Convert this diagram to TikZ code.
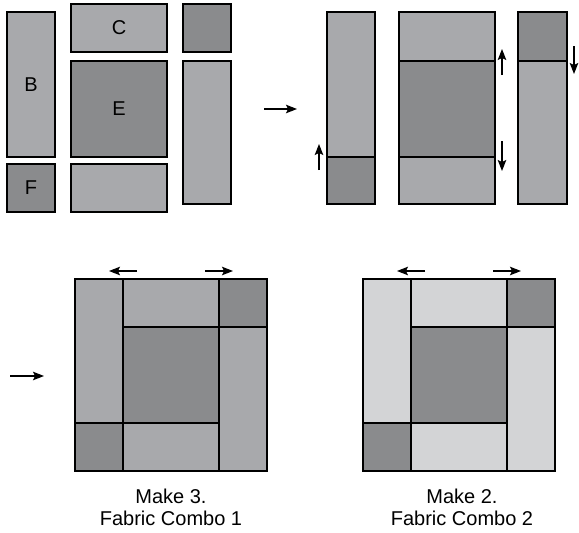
\documentclass[tikz,border=0pt]{standalone}
\usepackage{fontspec}
\setmainfont{Liberation Sans}
\usepackage{tikz}
\usetikzlibrary{arrows.meta,positioning}
\definecolor{midgray}{HTML}{A8A9AC}
\definecolor{darkgray}{HTML}{8A8B8D}
\definecolor{palegray}{HTML}{D3D4D6}

\begin{document}
\begin{tikzpicture}[x=1pt, y=-1pt, >={Stealth[length=11pt,width=8.5pt,inset=2pt]}, line width=1.1pt,
	patch/.style={draw, rectangle, anchor=north west, inner sep=0pt, outer sep=0pt, font=\fontsize{20}{22}\selectfont},
	lite/.style={patch, fill=midgray},
	dark/.style={patch, fill=darkgray},
	pale/.style={patch, fill=palegray},
	turn/.style={->, line width=1.3pt}]
	\useasboundingbox (0,0) rectangle (579,533);
	% cut pieces
	\node [lite, minimum width=48pt, minimum height=145pt] (B) at (7,12) {B};
	\node [dark, minimum width=48pt, minimum height=48pt] (F) at (7,164) {F};
	\node [lite, minimum width=96pt, minimum height=48pt] (C) at (71,4) {C};
	\node [dark, minimum width=96pt, minimum height=96pt] (E) at (71,61) {E};
	\node [lite, minimum width=96pt, minimum height=48pt] (D) at (71,164) {};
	\node [dark, minimum width=48pt, minimum height=48pt] (G) at (183,4) {};
	\node [lite, minimum width=48pt, minimum height=143pt] (H) at (183,61) {};
	% sewn columns
	\node [lite, minimum width=48pt, minimum height=145pt] (colB) at (327,12) {};
	\node [dark, minimum width=48pt, minimum height=47pt] (colF) at (327,157) {};
	\node [lite, minimum width=96pt, minimum height=49pt] (colC) at (399,12) {};
	\node [dark, minimum width=96pt, minimum height=96pt] (colE) at (399,61) {};
	\node [lite, minimum width=96pt, minimum height=47pt] (colD) at (399,157) {};
	\node [dark, minimum width=49pt, minimum height=49pt] (colG) at (518,12) {};
	\node [lite, minimum width=49pt, minimum height=143pt] (colH) at (518,61) {};
	% block, combo 1
	\node [lite, minimum width=48pt, minimum height=144pt] (oneB) at (75,279) {};
	\node [dark, minimum width=48pt, minimum height=48pt] (oneF) at (75,423) {};
	\node [lite, minimum width=96pt, minimum height=48pt] (oneC) at (123,279) {};
	\node [dark, minimum width=96pt, minimum height=96pt] (oneE) at (123,327) {};
	\node [lite, minimum width=96pt, minimum height=48pt] (oneD) at (123,423) {};
	\node [dark, minimum width=48pt, minimum height=48pt] (oneG) at (219,279) {};
	\node [lite, minimum width=48pt, minimum height=144pt] (oneH) at (219,327) {};
	% block, combo 2
	\node [pale, minimum width=48pt, minimum height=144pt] (twoB) at (363,279) {};
	\node [dark, minimum width=48pt, minimum height=48pt] (twoF) at (363,423) {};
	\node [pale, minimum width=96pt, minimum height=48pt] (twoC) at (411,279) {};
	\node [dark, minimum width=96pt, minimum height=96pt] (twoE) at (411,327) {};
	\node [pale, minimum width=96pt, minimum height=48pt] (twoD) at (411,423) {};
	\node [dark, minimum width=48pt, minimum height=48pt] (twoG) at (507,279) {};
	\node [pale, minimum width=48pt, minimum height=144pt] (twoH) at (507,327) {};
	% captions
	\node [align=center, inner sep=0pt, font=\fontsize{20}{22}\selectfont] (capone) at (171,507) {Make 3.\\Fabric Combo 1};
	\node [align=center, inner sep=0pt, font=\fontsize{20}{22}\selectfont] (captwo) at (462,507) {Make 2.\\Fabric Combo 2};
	% pressing arrows
	\coordinate (s1) at (264,109); \coordinate (t1) at (297,109);
	\coordinate (s2) at (319,170); \coordinate (t2) at (319,144);
	\coordinate (s3) at (502,75);  \coordinate (t3) at (502,49);
	\coordinate (s4) at (502,141); \coordinate (t4) at (502,171);
	\coordinate (s5) at (574,46);  \coordinate (t5) at (574,74);
	\coordinate (s6) at (137,271); \coordinate (t6) at (109,271);
	\coordinate (s7) at (205,271); \coordinate (t7) at (233,271);
	\coordinate (s8) at (10,376);  \coordinate (t8) at (44,376);
	\coordinate (s9) at (425,271); \coordinate (t9) at (397,271);
	\coordinate (s10) at (493,271); \coordinate (t10) at (521,271);
	\foreach \i in {1,...,10}
		\path (s\i) edge [turn] (t\i);
\end{tikzpicture}
\end{document}
